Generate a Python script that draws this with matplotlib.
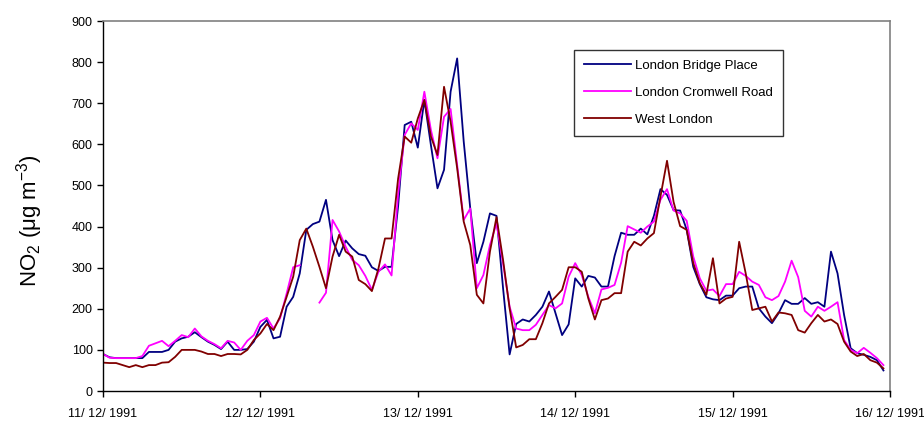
import numpy as np
import matplotlib
matplotlib.use("Agg")
import matplotlib.pyplot as plt

plt.rcParams['font.family'] = ['Liberation Sans', 'DejaVu Sans']
plt.rcParams['mathtext.fontset'] = 'custom'
plt.rcParams['mathtext.rm'] = 'Liberation Sans'
plt.rcParams['mathtext.it'] = 'Liberation Sans'

# Hourly NO2 (ug m-3), hour 0 = 00:00 11/12/1991
bridge_place = [90, 82, 80, 80, 80, 80, 80, 95, 95, 95, 100, 120, 128, 132, 143, 131, 120, 112, 102, 120,
                100, 100, 102, 120, 156, 173, 128, 132, 205, 229, 286, 392, 406, 412, 465, 367, 328, 366, 347, 333,
                329, 301, 292, 302, 302, 450, 647, 655, 592, 708, 598, 493, 538, 728, 809, 607, 444, 311, 363, 432,
                426, 250, 89, 163, 174, 169, 185, 205, 242, 189, 136, 162, 274, 254, 280, 276, 254, 254, 328, 385,
                380, 380, 395, 381, 426, 491, 477, 440, 439, 392, 302, 260, 228, 223, 221, 232, 232, 250, 254, 254,
                201, 181, 165, 189, 221, 212, 212, 226, 212, 216, 205, 339, 286, 185, 104, 92, 88, 83, 75, 50]
cromwell_road = [90, 81, 80, 80, 80, 80, 85, 110, 116, 122, 109, 122, 136, 131, 152, 133, 122, 114, 104, 122,
                 118, 100, 122, 136, 169, 178, 152, 177, 237, 301, 306, np.nan, np.nan, 215, 239, 416, 388, 351, 319, 306,
                 280, 246, 290, 308, 281, 480, 623, 651, 635, 728, 635, 566, 667, 686, 550, 416, 444, 250, 282, 355,
                 408, 310, 205, 152, 148, 148, 161, 185, 209, 201, 213, 278, 311, 282, 229, 189, 247, 251, 258, 312,
                 401, 393, 385, 400, 412, 465, 491, 439, 432, 414, 327, 274, 244, 247, 231, 260, 260, 290, 280, 266,
                 258, 228, 221, 231, 266, 317, 277, 195, 181, 205, 195, 205, 216, 124, 100, 92, 105, 93, 80, 63]
west_london = [69, 68, 68, 63, 58, 63, 58, 63, 63, 69, 70, 83, 100, 100, 100, 96, 90, 90, 85, 90,
               90, 89, 100, 124, 140, 163, 148, 181, 229, 278, 367, 395, 351, 302, 250, 327, 380, 339, 327, 270,
               260, 243, 298, 371, 371, 517, 619, 604, 663, 708, 619, 574, 740, 655, 542, 412, 355, 234, 213, 339,
               423, 319, 201, 106, 112, 126, 126, 165, 213, 229, 246, 301, 301, 290, 225, 174, 221, 225, 238, 238,
               339, 363, 354, 371, 384, 473, 560, 460, 401, 392, 311, 262, 234, 323, 213, 225, 229, 363, 286, 197,
               201, 205, 169, 191, 189, 185, 148, 142, 165, 185, 169, 174, 163, 120, 96, 85, 90, 75, 69, 55]

series_names = ["London Bridge Place", "London Cromwell Road", "West London"]
series_colors = ["#000080", "#FF00FF", "#800000"]
date_labels = ["11/ 12/ 1991", "12/ 12/ 1991", "13/ 12/ 1991", "14/ 12/ 1991", "15/ 12/ 1991", "16/ 12/ 1991"]

fig = plt.figure(figsize=(9.24, 4.23), dpi=100)
ax = fig.add_axes([103/924, 1 - 391/423, (890 - 103)/924, (391 - 21)/423])

hours = np.arange(len(bridge_place))
for data, name, col in zip([bridge_place, cromwell_road, west_london], series_names, series_colors):
    ax.plot(hours, data, color=col, lw=1.3, label=name)

ax.set_xlim(0, 120)
ax.set_ylim(0, 900)
ax.set_yticks(np.arange(0, 901, 100))
ax.set_xticks(np.arange(0, 121, 24))
ax.set_xticklabels(date_labels)
ax.tick_params(axis='both', direction='out', length=4, width=1, labelsize=9, colors='black')
ax.tick_params(axis='x', pad=8)
for s in ['top', 'right']:
    ax.spines[s].set_color('#808080')
    ax.spines[s].set_linewidth(1.2)
for s in ['left', 'bottom']:
    ax.spines[s].set_color('black')
    ax.spines[s].set_linewidth(1.0)

fig.text(30/924, 1 - 221/423, "NO$_2$ (μg m$^{-3}$)", rotation=90, ha='center', va='center', fontsize=16)

leg = ax.legend(loc='upper left', bbox_to_anchor=(0.59, 0.94), frameon=True, fancybox=False,
                edgecolor='black', fontsize=9.5, handlelength=3.6, labelspacing=1.12,
                borderpad=0.75, handletextpad=0.3)
leg.get_frame().set_linewidth(1.0)

fig.savefig("out.png", dpi=100)
